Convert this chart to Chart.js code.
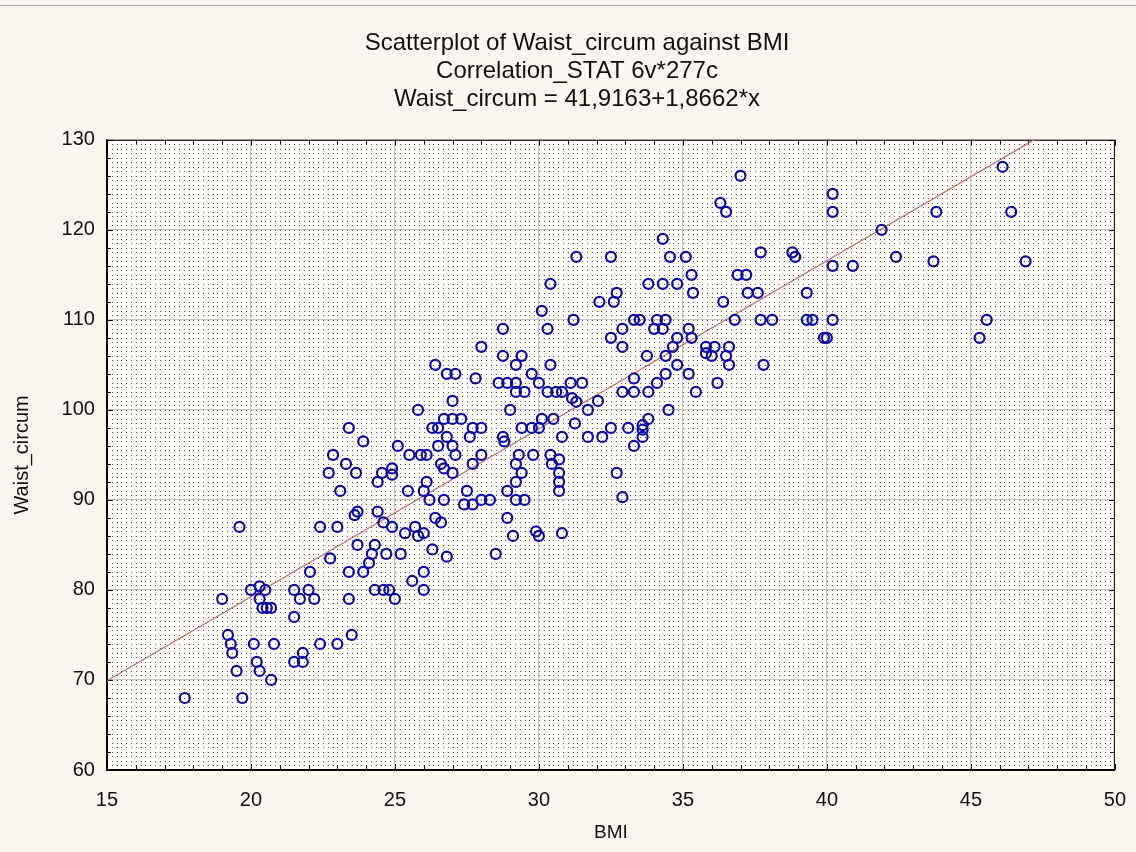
<!DOCTYPE html>
<html>
<head>
<meta charset="utf-8">
<script src="https://cdn.jsdelivr.net/npm/chart.js@4/dist/chart.umd.min.js"></script>
<style>
  html, body { margin: 0; padding: 0; background: #fbf7ec; }
  #wrap { width: 1136px; height: 852px; position: relative; }
</style>
</head>
<body>
<div id="wrap"><canvas id="chart"></canvas></div>
<script>
// chart text
const titleLines = ['Scatterplot of Waist_circum against BMI', 'Correlation_STAT 6v*277c', 'Waist_circum = 41,9163+1,8662*x'];
const xLabel = 'BMI';
const yLabel = 'Waist_circum';

// fitted line from the title
const intercept = 41.9163;
const slope = 1.8662;

// axis ticks
const xTicks = [15, 20, 25, 30, 35, 40, 45, 50];
const yTicks = [60, 70, 80, 90, 100, 110, 120, 130];

const bmi = [
    37.0, 36.3, 36.5, 34.3, 31.3, 32.5, 34.55, 35.1, 37.7, 30.4,
    33.8, 34.3, 34.8, 35.3, 36.9, 37.2, 32.7, 35.35, 37.25, 37.6,
    32.1, 32.6, 36.4, 30.1, 31.2, 33.3, 33.5, 34.1, 34.4, 36.8,
    37.7, 38.1, 28.75, 30.3, 32.9, 34.0, 34.3, 35.2, 28.0, 32.5,
    32.9, 34.8, 35.3, 34.65, 35.8, 36.1, 36.6,
    46.1, 40.2, 40.2, 43.8, 46.4, 41.9, 38.8, 38.9, 40.2, 40.9,
    42.4, 43.7, 46.9, 39.3, 39.3, 39.5, 40.2, 45.55, 39.9, 40.0, 45.3,
    28.75, 29.4, 29.2, 30.4, 33.75, 34.4, 34.8, 35.8, 36.0, 36.5,
    36.6, 37.8, 26.8, 27.1, 27.8, 29.75, 28.6, 28.9, 29.2, 30.0,
    31.1, 31.5, 29.2, 29.5, 30.3, 30.6, 30.8, 31.15, 31.3, 31.7,
    32.05, 32.9, 33.3, 33.8, 33.3, 34.1, 34.4, 35.2, 36.2, 35.45,
    27.0, 29.0, 34.5, 26.7, 27.0, 27.3, 27.7, 28.0, 29.4, 29.75,
    30.0, 30.1, 30.5, 31.25, 32.5, 33.1, 33.6, 33.8, 33.6, 26.8,
    27.6, 28.75, 28.8, 30.8, 31.7, 32.2, 33.6, 33.3, 27.0, 27.1,
    28.0, 29.3, 29.8, 30.4, 30.7, 29.2, 30.45, 26.6, 26.7, 27.7,
    27.0, 29.4, 30.7, 30.7, 32.7, 29.2, 30.7, 28.9, 27.5, 32.9,
    26.7, 27.4, 27.7, 28.0, 28.3, 29.2, 29.5, 26.6, 28.9, 29.1,
    29.9, 30.0, 30.8, 28.5, 26.8,
    26.4, 25.8, 26.3, 26.5, 23.4, 23.9, 25.1, 25.5, 25.9, 26.1,
    26.5, 22.85, 23.3, 22.7, 23.65, 24.55, 24.9, 24.9, 24.4, 23.1,
    25.45, 26.1, 26.0, 26.2, 23.7, 23.6, 24.4, 24.6, 24.9, 25.35,
    25.7, 25.8, 26.0, 26.4, 19.6, 22.4, 23.0, 23.7, 24.3, 26.3,
    22.75, 24.2, 24.7, 25.2,
    22.05, 23.4, 23.9, 24.1, 26.0, 25.6, 26.0, 19.0, 20.0, 20.3,
    20.5, 20.3, 20.4, 20.55, 20.7, 21.5, 22.0, 21.7, 22.2, 23.4,
    21.5, 24.3, 24.6, 24.8, 25.0, 19.2, 19.3, 19.35, 19.5, 20.1,
    20.8, 20.2, 20.3, 20.7, 21.5, 21.8, 21.8, 22.4, 23.0, 23.5,
    17.7, 19.7
];
const waist = [
    126, 123, 122, 119, 117, 117, 117, 117, 117.5, 114,
    114, 114, 114, 115, 115, 115, 113, 113, 113, 113,
    112, 112, 112, 111, 110, 110, 110, 110, 110, 110,
    110, 110, 109, 109, 109, 109, 109, 109, 107, 108,
    107, 108, 108, 107, 107, 107, 107,
    127, 124, 122, 122, 122, 120, 117.5, 117, 116, 116,
    117, 116.5, 116.5, 113, 110, 110, 110, 110, 108, 108, 108,
    106, 106, 105, 105, 106, 106, 105, 106.3, 106, 106,
    105, 105, 104, 104, 103.5, 104, 103, 103, 103, 103,
    103, 103, 102, 102, 102, 102, 102, 101.3, 100.9, 100,
    101, 102, 102, 102, 103.5, 103, 104, 104, 103, 102,
    101, 100, 100, 99, 99, 99, 98, 98, 98, 98,
    98, 99, 99, 98.5, 98, 98, 98.3, 99, 97.8, 97,
    97, 97, 96.5, 97, 97, 97, 97, 96, 96, 95,
    95, 95, 95, 95, 94.5, 94, 94, 94, 93.5, 94,
    93, 93, 93, 92, 93, 92, 91, 91, 91, 90.3,
    90, 89.5, 89.5, 90, 90, 90, 90, 87.5, 88, 86,
    86.5, 86, 86.3, 84, 83.7,
    105, 100, 98, 98, 98, 96.5, 96, 95, 95, 95,
    96, 95, 94, 93, 93, 93, 93.5, 92.8, 92, 91,
    91, 92, 91, 90, 88.7, 88.3, 88.7, 87.5, 87, 86.3,
    87, 86, 86.3, 88, 87, 87, 87, 85, 85, 84.5,
    83.5, 84, 84, 84,
    82, 82, 82, 83, 82, 81, 80, 79, 80, 80.4,
    80, 79, 78, 78, 78, 80, 80, 79, 79, 79,
    77, 80, 80, 80, 79, 75, 74, 73, 71, 74,
    74, 72, 71, 70, 72, 72, 73, 74, 74, 75,
    68, 68
];

const points = bmi.map((x, i) => ({ x: x, y: waist[i] }));
const fitLine = [
    { x: xTicks[0], y: intercept + slope * xTicks[0] },
    { x: xTicks[xTicks.length - 1], y: intercept + slope * xTicks[xTicks.length - 1] }
];

// plot background: white with a fine dot raster, frame and inner tick marks
const plotBackground = {
    id: 'plotBackground',
    beforeDraw(chart) {
        const { ctx, chartArea: a } = chart;
        ctx.save();
        ctx.fillStyle = '#fffefa';
        ctx.fillRect(a.left, a.top, a.right - a.left, a.bottom - a.top);
        ctx.fillStyle = 'rgba(20,20,20,0.75)';
        const dx = (a.right - a.left) / 210;
        const dy = (a.bottom - a.top) / 140;
        for (let x = a.left + dx; x < a.right - 1; x += dx) {
            for (let y = a.top + dy; y < a.bottom - 1; y += dy) {
                ctx.fillRect(Math.round(x), Math.round(y), 1, 1);
            }
        }
        // thin line along the top of the image
        ctx.fillStyle = '#b0b0b0';
        ctx.fillRect(0, 5, chart.width, 1);
        ctx.restore();
    },
    beforeDatasetsDraw(chart) {
        const { ctx, chartArea: a, scales } = chart;
        ctx.save();
        ctx.strokeStyle = '#000';
        ctx.lineWidth = 1;
        ctx.strokeRect(a.left + 0.5, a.top + 0.5, a.right - a.left - 1, a.bottom - a.top - 1);
        ctx.beginPath();
        // minor ticks every 1 on x, every 2 on y, pointing inward on all sides
        for (let v = scales.x.min; v <= scales.x.max; v += 1) {
            const px = Math.round(scales.x.getPixelForValue(v)) + 0.5;
            const len = v % 5 === 0 ? 6 : 4;
            ctx.moveTo(px, a.bottom); ctx.lineTo(px, a.bottom - len);
            ctx.moveTo(px, a.top); ctx.lineTo(px, a.top + len);
        }
        for (let v = scales.y.min; v <= scales.y.max; v += 2) {
            const py = Math.round(scales.y.getPixelForValue(v)) + 0.5;
            const len = v % 10 === 0 ? 6 : 4;
            ctx.moveTo(a.left, py); ctx.lineTo(a.left + len, py);
            ctx.moveTo(a.right, py); ctx.lineTo(a.right - len, py);
        }
        ctx.stroke();
        ctx.restore();
    }
};

const font = { family: 'Arial, "Liberation Sans", sans-serif' };

new Chart(document.getElementById('chart'), {
    type: 'scatter',
    data: {
        datasets: [
            {
                type: 'line',
                data: fitLine,
                borderColor: '#c46a6a',
                borderWidth: 1.3,
                pointRadius: 0,
                fill: false,
                order: 2
            },
            {
                data: points,
                pointStyle: 'circle',
                pointRadius: 5,
                pointBorderWidth: 2.2,
                pointBorderColor: '#0c0ca4',
                pointBackgroundColor: 'rgba(0,0,0,0)',
                order: 1
            }
        ]
    },
    options: {
        responsive: true,
        maintainAspectRatio: false,
        animation: false,
        layout: { padding: { left: 39, right: 21, top: 30, bottom: 0 } },
        plugins: {
            legend: { display: false },
            tooltip: { enabled: false },
            title: {
                display: true,
                text: titleLines,
                color: '#111',
                font: { ...font, size: 24, weight: 'normal', lineHeight: 1.15 },
                padding: { top: 0, bottom: 27 }
            }
        },
        scales: {
            x: {
                type: 'linear',
                min: 15, max: 50,
                afterBuildTicks: axis => { axis.ticks = xTicks.map(v => ({ value: v })); },
                // invisible tick marks just to push the labels down
                grid: { color: '#c4c4c4', drawTicks: true, tickLength: 8, tickColor: 'rgba(0,0,0,0)' },
                border: { color: '#000' },
                ticks: { color: '#111', font: { ...font, size: 20 }, padding: 10 },
                title: { display: true, text: xLabel, color: '#111', font: { ...font, size: 19 }, padding: { top: -0.4, bottom: 7.6 } }
            },
            y: {
                type: 'linear',
                min: 60, max: 130,
                afterBuildTicks: axis => { axis.ticks = yTicks.map(v => ({ value: v })); },
                grid: { color: '#c4c4c4', drawTicks: false },
                border: { color: '#000' },
                ticks: { color: '#111', font: { ...font, size: 20 }, padding: 12 },
                title: { display: true, text: yLabel, color: '#111', font: { ...font, size: 20 }, padding: { top: -29, bottom: 15.6 } }
            }
        }
    },
    plugins: [plotBackground]
});
</script>
</body>
</html>
